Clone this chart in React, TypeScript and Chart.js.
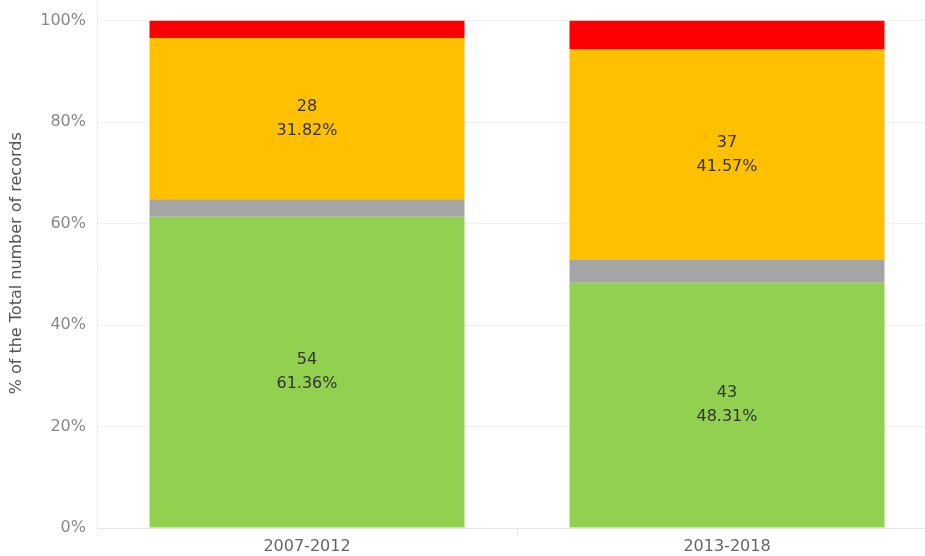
import React, { useEffect, useRef } from "react";
import { Chart, registerables } from "chart.js";

Chart.register(...registerables);

const categories = ["2007-2012", "2013-2018"];
const greenCounts = [54, 43];
const greyCounts = [3, 4];
const yellowCounts = [28, 37];
const redCounts = [3, 5];
const yTickValues = [0, 20, 40, 60, 80, 100];
const labelledSeries = [0, 2];
const yTitle = "% of the Total number of records";

const totals = categories.map(
  (_, i) => greenCounts[i] + greyCounts[i] + yellowCounts[i] + redCounts[i]
);
const pct = (arr: number[]) => arr.map((v, i) => (v / totals[i]) * 100);

const FONT = "'DejaVu Sans', 'Open Sans', sans-serif";

const extras = {
  id: "extras",
  afterDatasetsDraw(chart: any) {
    const ctx = chart.ctx;
    ctx.save();
    ctx.font = `16px ${FONT}`;
    ctx.fillStyle = "#333333";
    ctx.textAlign = "center";
    ctx.textBaseline = "middle";
    labelledSeries.forEach((di) => {
      const meta = chart.getDatasetMeta(di);
      const ds = chart.data.datasets[di];
      meta.data.forEach((bar: any, i: number) => {
        const cy = (bar.y + bar.base) / 2;
        const count = ds.counts[i];
        const p = ((count / totals[i]) * 100).toFixed(2) + "%";
        ctx.fillText(String(count), bar.x, cy - 12);
        ctx.fillText(p, bar.x, cy + 12);
      });
    });
    ctx.restore();
  },
  afterDraw(chart: any) {
    const ctx = chart.ctx;
    const a = chart.chartArea;
    ctx.save();
    ctx.strokeStyle = "#ececec";
    ctx.lineWidth = 1;
    ctx.beginPath();
    ctx.moveTo(a.left + 0.5, 0);
    ctx.lineTo(a.left + 0.5, a.bottom + 7);
    ctx.stroke();
    // axis title
    ctx.translate(17, (a.top + a.bottom) / 2 - 11);
    ctx.rotate(-Math.PI / 2);
    ctx.font = `16px ${FONT}`;
    ctx.fillStyle = "#555555";
    ctx.textAlign = "center";
    ctx.textBaseline = "middle";
    ctx.fillText(yTitle, 0, 0);
    ctx.restore();
  },
};

export default function App() {
  const ref = useRef<HTMLCanvasElement>(null);
  useEffect(() => {
    if (!ref.current) return;
    const chart = new Chart(ref.current, {
      type: "bar",
      data: {
        labels: categories,
        datasets: [
          { label: "Green", data: pct(greenCounts), counts: greenCounts, backgroundColor: "#92D050" } as any,
          { label: "Grey", data: pct(greyCounts), counts: greyCounts, backgroundColor: "#A5A5A5" } as any,
          { label: "Yellow", data: pct(yellowCounts), counts: yellowCounts, backgroundColor: "#FFC000" } as any,
          { label: "Red", data: pct(redCounts), counts: redCounts, backgroundColor: "#FF0000" } as any,
        ],
      },
      options: {
        animation: false,
        responsive: false,
        layout: { padding: { top: 18, right: 0, left: 0, bottom: 0 } },
        plugins: { legend: { display: false }, tooltip: { enabled: false } },
        datasets: { bar: { barPercentage: 0.75, categoryPercentage: 1 } },
        scales: {
          x: {
            stacked: true,
            offset: true,
            grid: { display: true, drawOnChartArea: false, offset: true, tickLength: 7, color: "#e6e6e6" },
            border: { display: true, color: "#e6e6e6" },
            ticks: { color: "#666666", font: { family: FONT, size: 16 }, padding: 2 },
            afterFit: (s: any) => { s.height = 28; },
          },
          y: {
            stacked: true,
            min: 0,
            max: 100,
            grid: { color: "#f0f0f0", drawTicks: false },
            border: { display: false },
            afterBuildTicks: (s: any) => { s.ticks = yTickValues.map((v) => ({ value: v })); },
            ticks: {
              color: "#888888",
              font: { family: FONT, size: 16 },
              padding: 11,
              callback: (v: any) => v + "%",
            },
            title: { display: false },
            afterFit: (s: any) => { s.width = 97; },
          },
        },
      },
      plugins: [extras],
    });
    return () => chart.destroy();
  }, []);
  return (
    <div style={{ position: "fixed", left: 0, top: 0, width: 925, height: 556, overflow: "hidden", background: "#fff" }}>
      <canvas ref={ref} width={937} height={556} style={{ display: "block", width: 937, height: 556 }} />
    </div>
  );
}
